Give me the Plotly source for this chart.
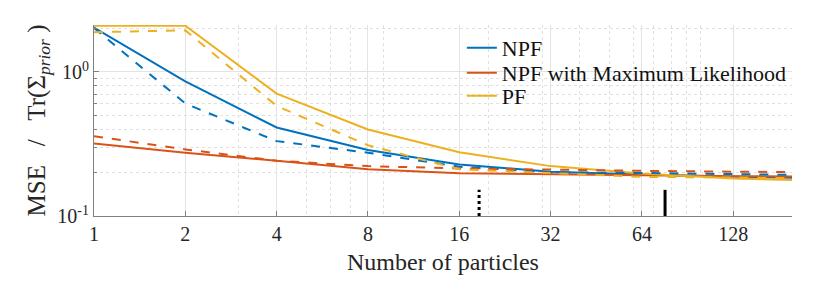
import plotly.graph_objects as go

# ---- data ----
particles = [1, 2, 4, 8, 16, 32, 64, 128, 200]

npf_solid = [2.03, 0.86, 0.412, 0.287, 0.228, 0.203, 0.194, 0.187, 0.184]
npf_dash = [2.02, 0.604, 0.331, 0.275, 0.220, 0.201, 0.199, 0.195, 0.193]
ml_solid = [0.319, 0.275, 0.242, 0.211, 0.198, 0.196, 0.192, 0.189, 0.188]
ml_dash = [0.358, 0.290, 0.242, 0.222, 0.214, 0.209, 0.206, 0.203, 0.202]
pf_solid = [2.096, 2.096, 0.708, 0.399, 0.277, 0.222, 0.197, 0.182, 0.178]
pf_dash = [1.89, 1.945, 0.581, 0.310, 0.211, 0.198, 0.187, 0.185, 0.183]

marker_x = [18.6, 76.3]
marker_bottom = [0.1, 0.1]
marker_top = [0.152, 0.152]
marker_dash = ["dot", "solid"]

x_ticks = [1, 2, 4, 8, 16, 32, 64, 128]
x_minor = [3, 5, 6, 7, 9, 20, 30, 40, 50, 60, 70, 80, 90, 100, 200]
y_ticks = [0.1, 1]
y_ticktext = ["10<sup>-1</sup>", "10<sup>0</sup>"]
y_minor = [0.2, 0.3, 0.4, 0.5, 0.6, 0.7, 0.8, 0.9, 2]

names = ["NPF", "NPF with Maximum Likelihood", "PF"]
colors = ["#0072BD", "#D95319", "#EDB120"]
legend_ids = ["legend", "legend2", "legend3"]
legend_y = [0.880, 0.749, 0.628]

FONT = "Liberation Serif"

fig = go.Figure()
solid_sets = [npf_solid, ml_solid, pf_solid]
dash_sets = [npf_dash, ml_dash, pf_dash]
for name, col, ys, lg in zip(names, colors, solid_sets, legend_ids):
    fig.add_trace(go.Scatter(x=particles, y=ys, mode="lines", name=name, legend=lg,
                             line=dict(color=col, width=2)))
for name, col, ys in zip(names, colors, dash_sets):
    fig.add_trace(go.Scatter(x=particles, y=ys, mode="lines", name=name + " (dashed)",
                             showlegend=False,
                             line=dict(color=col, width=2, dash="dash")))
for mx, b, t, d in zip(marker_x, marker_bottom, marker_top, marker_dash):
    fig.add_trace(go.Scatter(x=[mx, mx], y=[b, t], mode="lines", showlegend=False,
                             line=dict(color="black", width=3, dash=d)))

legend_style = dict(x=0.527, xanchor="left", yanchor="middle",
                    bgcolor="rgba(0,0,0,0)", font=dict(size=22, family=FONT, color="#111111"),
                    itemwidth=30)

fig.update_layout(
    width=815, height=269,
    margin=dict(l=86, r=31, t=17, b=61),
    paper_bgcolor="white", plot_bgcolor="white",
    font=dict(family=FONT, size=20, color="#262626"),
    legend=dict(y=legend_y[0], **legend_style),
    legend2=dict(y=legend_y[1], **legend_style),
    legend3=dict(y=legend_y[2], **legend_style),
    xaxis=dict(
        type="log", range=[0, 2.30103], automargin=False,
        tickvals=x_ticks, ticktext=[str(v) for v in x_ticks],
        ticks="inside", ticklen=5, tickcolor="#808080",
        showline=True, linecolor="#808080", linewidth=1,
        showgrid=True, gridcolor="#e3e3e3", gridwidth=1,
        zeroline=False,
        minor=dict(tickvals=x_minor, showgrid=True, gridcolor="#e0e0e0",
                   griddash="dot", ticks=""),
        title=dict(text="Number of particles", font=dict(size=24, family=FONT), standoff=9),
        tickfont=dict(size=20, family=FONT),
    ),
    yaxis=dict(
        type="log", range=[-1, 0.3263], automargin=False,
        tickvals=y_ticks, ticktext=y_ticktext,
        ticks="inside", ticklen=5, tickcolor="#808080",
        showline=True, linecolor="#808080", linewidth=1,
        showgrid=True, gridcolor="#e3e3e3", gridwidth=1,
        zeroline=False,
        minor=dict(tickvals=y_minor, showgrid=True, gridcolor="#e0e0e0",
                   griddash="dot", ticks="inside", ticklen=3, tickcolor="#808080"),
        title=dict(text="MSE&nbsp;&nbsp;&nbsp;/&nbsp;&nbsp;&nbsp;Tr(Σ<sub><i>prior</i></sub>&nbsp;)",
                   font=dict(size=25, family=FONT), standoff=4),
        tickfont=dict(size=20, family=FONT),
    ),
)

fig.write_html("out.html")
